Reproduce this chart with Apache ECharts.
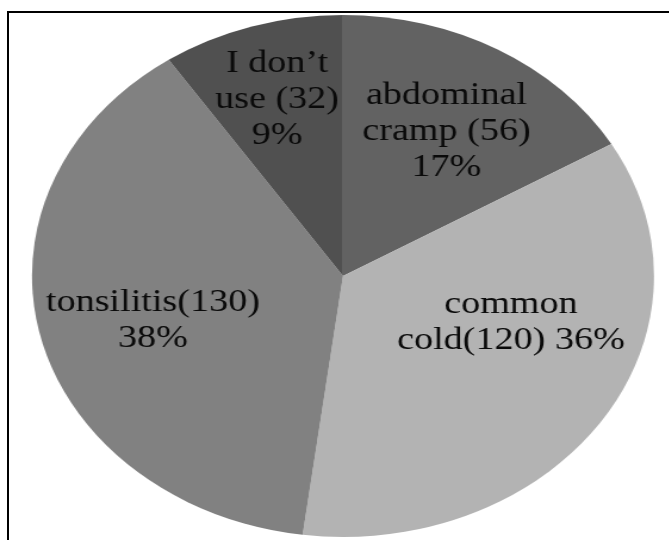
<!DOCTYPE html>
<html>
<head>
<meta charset="utf-8">
<script src="https://cdn.jsdelivr.net/npm/echarts@6/dist/echarts.min.js"></script>
<style>
  html, body { margin: 0; padding: 0; background: #ffffff; }
  #wrap { position: relative; width: 669px; height: 540px; overflow: hidden; }
  #frame {
    position: absolute; left: 7px; top: 11px; right: -10px; bottom: -10px;
    border-top: 2px solid #000; border-left: 2px solid #000;
    pointer-events: none; z-index: 2;
  }
  /* the pie is drawn as a circle, then widened into the oval shape */
  #chart {
    position: absolute; left: 0; top: 0;
    width: 562px; height: 540px;
    transform-origin: 0 0;
    transform: scaleX(1.1916);
  }
  #probe { position: absolute; left: -999px; font-family: 'Liberation Serif'; }
</style>
</head>
<body>
<div id="wrap">
  <div id="chart"></div>
  <div id="frame"></div>
</div>
<span id="probe">abc</span>
<script>
// Survey answers
const categories = ['abdominal cramp', 'common cold', 'tonsilitis', 'I don’t use'];
const counts = [56, 120, 130, 32];
const labelTemplates = [
  'abdominal\ncramp ({c})\n{d}%',
  'common\ncold({c}) {d}%',
  'tonsilitis({c})\n{d}%',
  'I don’t\nuse ({c})\n{d}%'
];
const sliceColors = ['#626262', '#b3b3b3', '#818181', '#505050'];

// label anchors: angle (deg, clockwise from 12 o'clock) and fraction of radius
const labelAngle = [31, 108.4, 254.3, 342.6];
const labelRadius = [0.646, 0.569, 0.635, 0.709];

const SX = 1.1916;
const CX = 343 / SX, CY = 276, R = 261;
const FONT = "'Liberation Serif', 'Times New Roman', Tinos, serif";

function draw() {
  const chart = echarts.init(document.getElementById('chart'), null, { renderer: 'canvas' });
  chart.setOption({
    animation: false,
    series: [{
      type: 'pie',
      center: [CX, CY],
      radius: [0, R],
      startAngle: 90,
      clockwise: true,
      percentPrecision: 0,
      avoidLabelOverlap: false,
      itemStyle: { borderWidth: 0 },
      emphasis: { disabled: true },
      labelLine: { show: false },
      label: {
        show: true,
        position: 'inside',
        color: '#0a0a0a',
        fontFamily: FONT,
        fontSize: 32,
        lineHeight: 36,
        align: 'center',
        formatter: function (p) {
          return labelTemplates[p.dataIndex]
            .replace('{c}', p.value)
            .replace('{d}', p.percent);
        }
      },
      labelLayout: function (p) {
        const a = labelAngle[p.dataIndex] * Math.PI / 180;
        const f = labelRadius[p.dataIndex];
        return {
          x: CX + Math.sin(a) * f * R,
          y: CY - Math.cos(a) * f * R,
          align: 'center',
          verticalAlign: 'middle'
        };
      },
      data: categories.map(function (name, i) {
        return { name: name, value: counts[i], itemStyle: { color: sliceColors[i] } };
      })
    }]
  });
}

if (document.fonts && document.fonts.load) {
  document.fonts.load("32px 'Liberation Serif'").then(draw, draw);
} else {
  draw();
}
</script>
</body>
</html>
